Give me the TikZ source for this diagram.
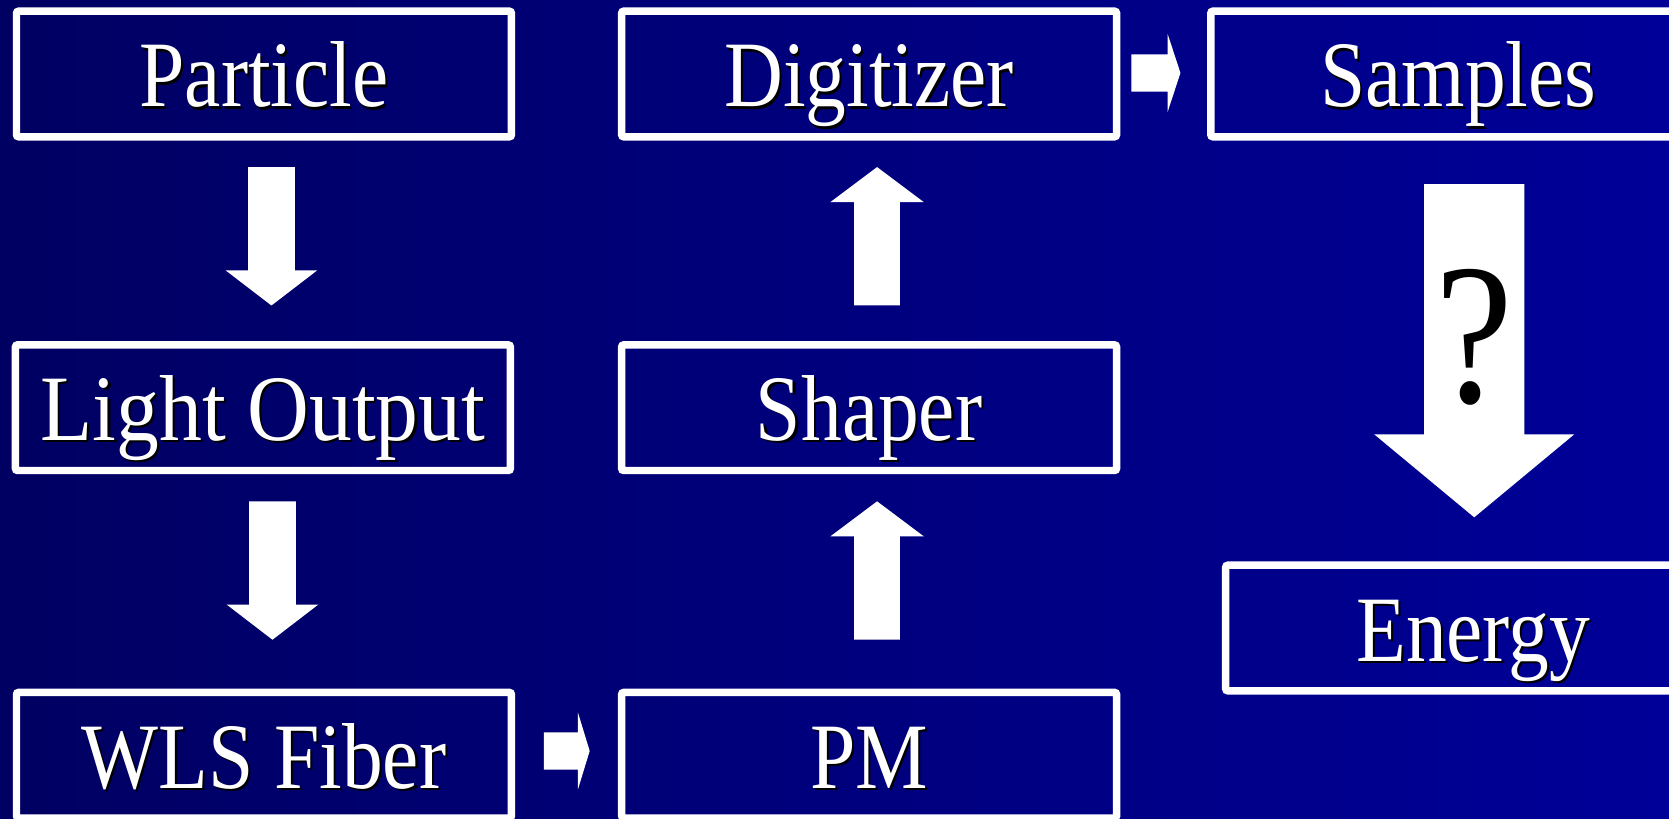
\documentclass[tikz,border=0pt]{standalone}
\usepackage{fontspec}
\setmainfont[FakeStretch=0.87]{Liberation Serif}
\usetikzlibrary{calc}

\definecolor{bgleft}{RGB}{0,0,98}
\definecolor{bgright}{RGB}{0,0,152}

% white label with a black drop shadow behind it
\newcommand\castshadow[1]{\makebox[0pt][l]{\hspace{2pt}\raisebox{-2pt}{\color{black}#1}}#1}

% block arrow: from, to, shaft half width, head half width, head length
\newcommand\blockarrow[5]{%
  \coordinate (ba-neck) at ($(#2)!#5!(#1)$);
  \fill[white] ($(#1)!#3!90:(#2)$) -- ($(ba-neck)!#3!90:(#2)$)
    -- ($(ba-neck)!#4!90:(#2)$) -- (#2) -- ($(ba-neck)!#4!-90:(#2)$)
    -- ($(ba-neck)!#3!-90:(#2)$) -- ($(#1)!#3!-90:(#2)$) -- cycle;}

\begin{document}
\begin{tikzpicture}[x=1pt,y=-1pt,
  stage/.style={draw=white, line width=7pt, rounded corners=2pt,
    minimum width=465pt, minimum height=118pt, inner sep=0pt,
    text=white, font=\fontsize{88}{100}\selectfont,
    text height=62pt, text depth=0pt}]

  \clip (0,0) rectangle (1568,769);
  \shade[left color=bgleft, right color=bgright] (0,0) rectangle (1568,769);

  % processing stages
  \node[stage] (particle)  at (248,69.5)    {\castshadow{Particle}};
  \node[stage] (lightout)  at (247,383)     {\scalebox{1.05}[1]{\castshadow{Light Output}}};
  \node[stage] (wls)       at (248,709.5)   {\castshadow{WLS Fiber}};
  \node[stage] (pm)        at (816.5,709.5) {\castshadow{PM}};
  \node[stage] (shaper)    at (816.5,383)   {\castshadow{Shaper}};
  \node[stage] (digitizer) at (816.5,69.5)  {\castshadow{Digitizer}};
  \node[stage] (samples)   at (1370,69.5)   {\castshadow{Samples}};
  \node[stage] (energy)    at (1384,590)    {\castshadow{Energy}};

  % arrow end points between the stages
  \coordinate (a1s) at (255,157);   \coordinate (a1e) at (255,287);
  \coordinate (a2s) at (256,471);   \coordinate (a2e) at (256,601);
  \coordinate (a3s) at (511,705.5); \coordinate (a3e) at (554,705.5);
  \coordinate (a4s) at (824,601);   \coordinate (a4e) at (824,471);
  \coordinate (a5s) at (824,287);   \coordinate (a5e) at (824,157);
  \coordinate (a6s) at (1063,68.5); \coordinate (a6e) at (1109,68.5);
  \coordinate (a7s) at (1385,173);  \coordinate (a7e) at (1385,486);

  \blockarrow{a1s}{a1e}{22pt}{43pt}{33pt}
  \blockarrow{a2s}{a2e}{22pt}{43pt}{33pt}
  \blockarrow{a3s}{a3e}{17.5pt}{36pt}{11pt}
  \blockarrow{a4s}{a4e}{21.5pt}{44pt}{33pt}
  \blockarrow{a5s}{a5e}{21.5pt}{44pt}{33pt}
  \blockarrow{a6s}{a6e}{17.5pt}{36.5pt}{12pt}
  \blockarrow{a7s}{a7e}{47pt}{94pt}{78pt}

  \node[anchor=base, inner sep=0pt, text=black,
        font=\fontsize{189}{200}\selectfont] (qmark) at (1385,378) {?};
\end{tikzpicture}
\end{document}
